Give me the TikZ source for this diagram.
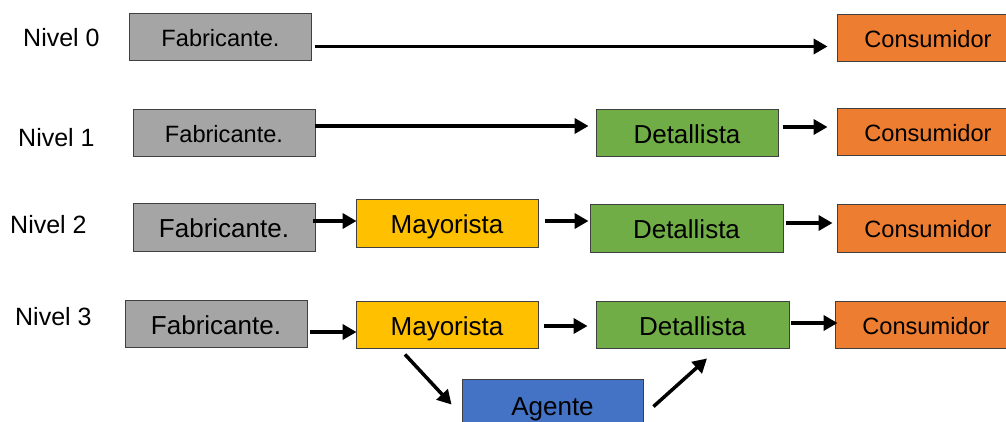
\documentclass[tikz,border=0pt]{standalone}
\usepackage{fontspec}
\setmainfont{Liberation Sans}
\usetikzlibrary{arrows.meta}
\definecolor{fabgray}{HTML}{A5A5A5}
\definecolor{mayyellow}{HTML}{FFC000}
\definecolor{detgreen}{HTML}{70AD47}
\definecolor{conorange}{HTML}{ED7D31}
\definecolor{agblue}{HTML}{4472C4}
\begin{document}
\begin{tikzpicture}[x=1pt,y=-1pt,
  box/.style={draw=black!75, line width=0.9pt, minimum height=47pt,
    minimum width=182pt, inner sep=0pt, text depth=0pt},
  big/.style={font=\fontsize{26}{30}\selectfont, text height=21.3pt},
  small/.style={font=\fontsize{23.6}{28}\selectfont, text height=19.4pt},
  fab/.style={box, fill=fabgray},
  may/.style={box, fill=mayyellow, big},
  det/.style={box, fill=detgreen, big},
  con/.style={box, fill=conorange, small},
  age/.style={box, fill=agblue, big},
  lvl/.style={anchor=base west, inner sep=0pt, font=\fontsize{25}{30}\selectfont},
  arr/.style={line width=3.5pt, -{Triangle[length=14pt,width=15pt]}}]
\useasboundingbox (0,0) rectangle (1006,421);

% level labels
\node[lvl] (n0) at (23,46) {Nivel 0};
\node[lvl] (n1) at (18,146) {Nivel 1};
\node[lvl] (n2) at (10,233) {Nivel 2};
\node[lvl] (n3) at (15,325) {Nivel 3};

% level 0
\node[fab,small] (F0) at (220.5,36.5) {Fabricante.};
\node[con] (C0) at (928,37.5) {Consumidor};
\draw[arr] ([shift={(3pt,-10pt)}]F0.east) -- ([shift={(-9pt,-9pt)}]C0.west);

% level 1
\node[fab,small] (F1) at (224,132.5) {Fabricante.};
\node[det,minimum width=182pt] (D1) at (687,132.5) {Detallista};
\node[con] (C1) at (928,131.5) {Consumidor};
\draw[arr] ([shift={(0pt,6.5pt)}]F1.east) -- ([shift={(-7pt,6.5pt)}]D1.west);
\draw[arr] ([shift={(5pt,5.5pt)}]D1.east) -- ([shift={(-9pt,4.5pt)}]C1.west);

% level 2
\node[fab,big,minimum height=48pt] (F2) at (224,227) {Fabricante.};
\node[may,minimum height=48pt] (M2) at (447,223) {Mayorista};
\node[det,minimum width=193pt,minimum height=48pt] (D2) at (686.5,228) {Detallista};
\node[con,minimum height=48pt] (C2) at (928,228) {Consumidor};
\draw[arr] ([shift={(-2pt,6pt)}]F2.east) -- ([shift={(1pt,2pt)}]M2.west);
\draw[arr] ([shift={(7pt,2pt)}]M2.east) -- ([shift={(-1pt,7pt)}]D2.west);
\draw[arr] ([shift={(3pt,5pt)}]D2.east) -- ([shift={(-4pt,5pt)}]C2.west);

% level 3
\node[fab,big] (F3) at (216,324) {Fabricante.};
\node[may] (M3) at (447,324.5) {Mayorista};
\node[det,minimum width=193pt] (D3) at (692.5,324.5) {Detallista};
\node[con] (C3) at (926,324.5) {Consumidor};
\node[age,minimum width=181pt,minimum height=52pt] (A) at (552.5,405) {Agente};
\draw[arr] ([shift={(3pt,-8pt)}]F3.east) -- ([shift={(1pt,-7.5pt)}]M3.west);
\draw[arr] ([shift={(6pt,-1.5pt)}]M3.east) -- ([shift={(-8pt,-1.5pt)}]D3.west);
\draw[arr] ([shift={(2pt,1.5pt)}]D3.east) -- ([shift={(3pt,1.5pt)}]C3.west);
\draw[arr] ([shift={(-42pt,-6pt)}]M3.south) -- ([shift={(-10pt,-26pt)}]A.north west);
\draw[arr] ([shift={(10pt,-28pt)}]A.north east) -- ([shift={(14.5pt,-10pt)}]D3.south);
\end{tikzpicture}
\end{document}
